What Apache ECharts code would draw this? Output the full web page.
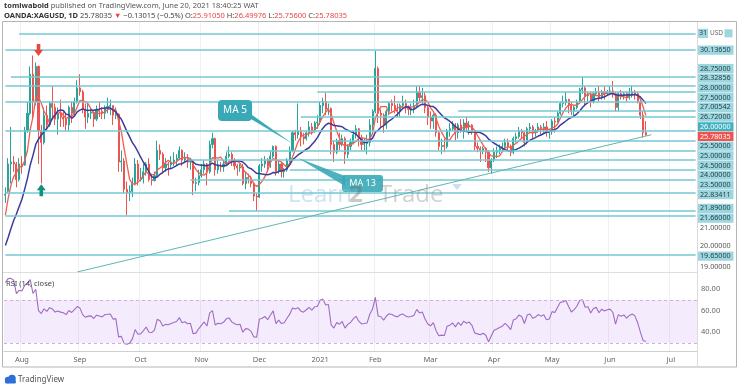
<!DOCTYPE html>
<html><head><meta charset="utf-8">
<script src="https://cdn.jsdelivr.net/npm/echarts/dist/echarts.min.js"></script>
<style>html,body{margin:0;padding:0;background:#fff}#c{width:740px;height:389px}</style>
</head><body><div id="c"></div>
<script>
const FONT = '"Noto Sans", "Open Sans", sans-serif';

// trading-day categories (incl. empty future days on the right)
const dates = [
'2020-07-24','2020-07-27','2020-07-28','2020-07-29','2020-07-30','2020-07-31',
'2020-08-03','2020-08-04','2020-08-05','2020-08-06','2020-08-07','2020-08-10','2020-08-11','2020-08-12','2020-08-13','2020-08-14','2020-08-17','2020-08-18','2020-08-19','2020-08-20','2020-08-21','2020-08-24','2020-08-25','2020-08-26','2020-08-27','2020-08-28','2020-08-31',
'2020-09-01','2020-09-02','2020-09-03','2020-09-04','2020-09-07','2020-09-08','2020-09-09','2020-09-10','2020-09-11','2020-09-14','2020-09-15','2020-09-16','2020-09-17','2020-09-18','2020-09-21','2020-09-22','2020-09-23','2020-09-24','2020-09-25','2020-09-28','2020-09-29','2020-09-30',
'2020-10-01','2020-10-02','2020-10-05','2020-10-06','2020-10-07','2020-10-08','2020-10-09','2020-10-12','2020-10-13','2020-10-14','2020-10-15','2020-10-16','2020-10-19','2020-10-20','2020-10-21','2020-10-22','2020-10-23','2020-10-26','2020-10-27','2020-10-28','2020-10-29','2020-10-30',
'2020-11-02','2020-11-03','2020-11-04','2020-11-05','2020-11-06','2020-11-09','2020-11-10','2020-11-11','2020-11-12','2020-11-13','2020-11-16','2020-11-17','2020-11-18','2020-11-19','2020-11-20','2020-11-23','2020-11-24','2020-11-25','2020-11-26','2020-11-27','2020-11-30',
'2020-12-01','2020-12-02','2020-12-03','2020-12-04','2020-12-07','2020-12-08','2020-12-09','2020-12-10','2020-12-11','2020-12-14','2020-12-15','2020-12-16','2020-12-17','2020-12-18','2020-12-21','2020-12-22','2020-12-23','2020-12-24','2020-12-28','2020-12-29','2020-12-30','2020-12-31',
'2021-01-04','2021-01-05','2021-01-06','2021-01-07','2021-01-08','2021-01-11','2021-01-12','2021-01-13','2021-01-14','2021-01-15','2021-01-18','2021-01-19','2021-01-20','2021-01-21','2021-01-22','2021-01-25','2021-01-26','2021-01-27','2021-01-28','2021-01-29',
'2021-02-01','2021-02-02','2021-02-03','2021-02-04','2021-02-05','2021-02-08','2021-02-09','2021-02-10','2021-02-11','2021-02-12','2021-02-15','2021-02-16','2021-02-17','2021-02-18','2021-02-19','2021-02-22','2021-02-23','2021-02-24','2021-02-25','2021-02-26',
'2021-03-01','2021-03-02','2021-03-03','2021-03-04','2021-03-05','2021-03-08','2021-03-09','2021-03-10','2021-03-11','2021-03-12','2021-03-15','2021-03-16','2021-03-17','2021-03-18','2021-03-19','2021-03-22','2021-03-23','2021-03-24','2021-03-25','2021-03-26','2021-03-29','2021-03-30','2021-03-31',
'2021-04-01','2021-04-05','2021-04-06','2021-04-07','2021-04-08','2021-04-09','2021-04-12','2021-04-13','2021-04-14','2021-04-15','2021-04-16','2021-04-19','2021-04-20','2021-04-21','2021-04-22','2021-04-23','2021-04-26','2021-04-27','2021-04-28','2021-04-29','2021-04-30',
'2021-05-03','2021-05-04','2021-05-05','2021-05-06','2021-05-07','2021-05-10','2021-05-11','2021-05-12','2021-05-13','2021-05-14','2021-05-17','2021-05-18','2021-05-19','2021-05-20','2021-05-21','2021-05-24','2021-05-25','2021-05-26','2021-05-27','2021-05-28','2021-05-31',
'2021-06-01','2021-06-02','2021-06-03','2021-06-04','2021-06-07','2021-06-08','2021-06-09','2021-06-10','2021-06-11','2021-06-14','2021-06-15','2021-06-16','2021-06-17','2021-06-18',
'2021-06-21','2021-06-22','2021-06-23','2021-06-24','2021-06-25','2021-06-28','2021-06-29','2021-06-30',
'2021-07-01','2021-07-02','2021-07-05','2021-07-06','2021-07-07','2021-07-08','2021-07-09','2021-07-12','2021-07-13','2021-07-14'
];

// daily candles [open, close, low, high]
const candles = [
[22.70,22.75,22.30,23.10],[22.90,24.30,22.80,24.60],[24.30,24.40,23.30,26.20],[24.40,24.30,23.90,24.70],[24.30,23.50,23.10,24.40],[23.50,24.30,23.40,24.60],
[24.30,24.25,23.80,24.70],[24.25,26.00,24.20,26.20],[26.00,26.90,25.90,27.50],[26.90,28.90,26.80,29.30],[28.90,27.50,26.60,29.86],[27.50,29.30,27.30,29.50],[29.30,26.00,24.30,29.35],[26.00,25.40,23.30,26.30],[25.40,26.80,25.30,27.20],[26.80,26.30,26.00,27.30],[26.30,27.40,26.20,27.50],[27.40,27.20,26.60,28.30],[27.20,26.60,26.30,27.40],[26.60,26.90,25.80,27.20],[26.90,26.70,26.20,27.60],[26.70,26.60,26.20,27.00],[26.60,26.30,26.00,26.90],[26.30,27.20,26.00,27.30],[27.20,26.90,26.40,27.50],[26.90,27.50,26.80,27.70],[27.50,28.20,27.40,28.60],
[28.20,28.00,27.80,28.90],[28.00,27.10,26.90,28.10],[27.10,26.70,26.10,27.40],[26.70,26.90,26.40,27.40],[26.90,26.95,26.60,27.10],[26.95,26.60,26.20,27.00],[26.60,27.10,26.50,27.30],[27.10,27.00,26.70,27.50],[27.00,26.90,26.60,27.20],[26.90,27.20,26.60,27.30],[27.20,27.25,26.90,27.70],[27.25,27.30,26.80,27.60],[27.30,26.80,26.30,27.30],[26.80,26.85,26.60,27.20],[26.85,24.40,23.90,26.90],[24.40,24.45,23.90,25.00],[24.45,23.00,22.80,24.60],[23.00,22.80,21.66,23.40],[22.80,22.90,22.40,23.20],[22.90,23.30,22.60,23.60],[23.30,24.30,23.20,24.60],[24.30,23.50,23.20,24.50],
[23.50,23.55,23.40,24.10],[23.55,23.90,23.30,24.30],[23.90,24.30,23.70,24.40],[24.30,23.50,23.40,24.60],[23.50,23.45,23.20,23.80],[23.45,23.70,23.40,23.90],[23.70,25.00,23.60,25.50],[25.00,24.80,24.50,25.30],[24.80,24.10,23.80,24.90],[24.10,24.30,23.90,24.60],[24.30,24.25,23.70,24.40],[24.25,24.40,24.10,24.70],[24.40,24.50,24.20,24.90],[24.50,24.60,24.20,24.80],[24.60,25.00,24.50,25.20],[25.00,24.50,24.20,25.05],[24.50,24.60,24.40,24.90],[24.60,24.40,24.10,24.80],[24.40,24.45,24.00,24.55],[24.45,23.30,22.70,24.50],[23.30,23.35,22.90,23.60],[23.35,23.70,23.20,24.00],
[23.70,24.00,23.60,24.30],[24.00,24.30,23.80,24.50],[24.30,23.90,23.20,24.35],[23.90,25.30,23.80,25.50],[25.30,25.60,25.10,25.90],[25.60,24.00,23.70,25.65],[24.00,24.20,23.80,24.50],[24.20,24.15,23.90,24.40],[24.15,24.30,23.90,24.50],[24.30,24.70,24.20,24.90],[24.70,24.80,24.60,25.20],[24.80,24.40,24.20,24.90],[24.40,24.20,24.00,24.60],[24.20,24.10,23.70,24.30],[24.10,24.15,23.90,24.30],[24.15,23.30,23.20,24.30],[23.30,23.60,23.00,23.90],[23.60,23.55,23.30,23.80],[23.55,23.30,23.10,23.70],[23.30,22.65,22.40,23.35],[22.65,22.60,21.90,22.80],
[22.60,24.20,22.55,24.30],[24.20,24.30,23.90,24.60],[24.30,24.50,24.10,24.70],[24.50,24.20,23.90,24.60],[24.20,24.70,24.10,25.00],[24.70,25.20,24.60,25.25],[25.20,23.90,23.70,25.25],[23.90,24.30,23.80,24.50],[24.30,23.90,23.60,24.40],[23.90,24.00,23.60,24.10],[24.00,24.50,23.90,24.60],[24.50,25.00,24.40,25.20],[25.00,25.90,24.90,26.00],[25.90,25.80,25.50,26.05],[25.80,26.00,25.60,27.40],[26.00,25.70,25.20,26.20],[25.70,25.60,25.30,25.90],[25.60,25.90,25.50,26.00],[25.90,26.20,25.70,26.50],[26.20,26.00,25.80,26.40],[26.00,26.40,25.90,26.50],[26.40,26.45,26.10,26.80],
[26.45,27.30,26.30,27.50],[27.30,27.50,26.90,27.70],[27.50,27.10,26.80,27.95],[27.10,27.15,26.80,27.40],[27.15,25.30,24.80,27.20],[25.30,24.90,24.40,25.50],[24.90,25.50,24.80,25.60],[25.50,25.30,25.00,25.90],[25.30,25.60,25.20,25.80],[25.60,24.80,24.30,25.70],[24.80,25.20,24.60,25.30],[25.20,25.40,25.00,25.60],[25.40,25.80,25.30,26.00],[25.80,26.10,25.60,26.30],[26.10,25.60,25.20,26.15],[25.60,25.30,25.00,25.80],[25.30,25.35,25.00,25.60],[25.35,25.40,24.80,25.80],[25.40,26.30,25.20,26.60],[26.30,27.00,26.00,27.10],
[27.00,29.20,26.90,30.10],[29.20,26.90,26.40,29.30],[26.90,26.80,26.20,27.10],[26.80,26.30,25.90,26.90],[26.30,27.00,26.10,27.10],[27.00,27.40,26.80,27.50],[27.40,27.30,27.00,27.60],[27.30,27.10,26.90,27.80],[27.10,27.00,26.70,27.40],[27.00,27.30,26.70,27.40],[27.30,27.40,27.20,27.80],[27.40,27.20,26.90,27.60],[27.20,27.10,26.80,27.30],[27.10,27.15,26.80,27.40],[27.15,27.30,26.90,27.60],[27.30,28.00,27.20,28.30],[28.00,27.70,27.50,28.30],[27.70,27.80,27.40,28.20],[27.80,27.20,26.90,28.00],[27.20,26.70,26.30,27.30],
[26.70,26.50,26.10,27.00],[26.50,26.80,26.10,26.90],[26.80,25.90,25.70,26.90],[25.90,25.20,25.00,26.00],[25.20,25.25,24.80,25.60],[25.25,25.20,24.90,25.60],[25.20,26.00,25.10,26.10],[26.00,26.10,25.70,26.40],[26.10,26.30,26.00,26.50],[26.30,25.90,25.50,26.40],[25.90,26.30,25.60,26.40],[26.30,26.00,25.90,26.60],[26.00,26.40,25.60,26.60],[26.40,26.20,26.00,26.70],[26.20,26.30,25.80,26.50],[26.30,26.00,25.80,26.35],[26.00,25.20,25.00,26.05],[25.20,25.10,24.90,25.40],[25.10,25.00,24.40,25.20],[25.00,25.10,24.80,25.20],[25.10,24.90,24.40,25.15],[24.90,24.10,23.90,25.00],[24.10,24.50,23.80,24.60],
[24.50,24.90,24.40,25.10],[24.90,25.00,24.60,25.20],[25.00,25.10,24.80,25.30],[25.10,25.20,24.90,25.40],[25.20,25.40,25.10,25.60],[25.40,25.20,25.00,25.60],[25.20,24.90,24.70,25.30],[24.90,25.60,24.80,25.70],[25.60,25.70,25.40,25.90],[25.70,26.00,25.60,26.20],[26.00,25.90,25.60,26.10],[25.90,25.40,25.20,26.00],[25.40,26.10,25.30,26.20],[26.10,26.20,25.90,26.40],[26.20,25.90,25.60,26.30],[25.90,26.00,25.70,26.10],[26.00,26.20,25.90,26.40],[26.20,26.10,25.80,26.30],[26.10,26.20,25.90,26.40],[26.20,25.90,25.70,26.50],[25.90,25.95,25.60,26.10],
[25.95,26.50,25.80,26.60],[26.50,26.45,25.90,26.70],[26.45,26.90,26.40,27.00],[26.90,27.40,26.80,27.50],[27.40,27.45,27.20,27.80],[27.45,27.60,27.30,28.00],[27.60,27.30,26.90,27.65],[27.30,27.00,26.80,27.50],[27.00,27.20,26.70,27.30],[27.20,27.50,27.10,27.60],[27.50,28.10,27.40,28.20],[28.10,28.20,27.90,28.75],[28.20,27.80,27.30,28.30],[27.80,27.85,27.50,28.00],[27.85,27.50,27.20,28.00],[27.50,27.90,27.40,28.00],[27.90,28.00,27.80,28.20],[28.00,27.70,27.50,28.30],[27.70,28.00,27.60,28.10],[28.00,27.90,27.60,28.30],[27.90,28.00,27.80,28.10],
[28.00,28.05,27.90,28.30],[28.05,27.90,27.70,28.55],[27.90,27.20,27.00,28.00],[27.20,27.90,27.00,28.00],[27.90,27.80,27.60,28.10],[27.80,27.90,27.60,28.00],[27.90,27.70,27.50,28.00],[27.70,27.90,27.60,28.20],[27.90,28.00,27.70,28.33],[28.00,27.90,27.60,28.10],[27.90,27.50,27.40,28.00],[27.50,26.80,26.60,27.60],[26.80,25.91,25.65,27.00],[25.9105,25.78035,25.756,26.49976]
];

// closes before the first visible day (Jun 1 - Jul 23 2020), used only to warm up MA/RSI
const priorCloses = [18.40,18.20,17.80,17.90,17.50,17.60,17.80,17.90,17.70,17.50,17.50,17.60,17.70,17.60,17.60,17.70,17.90,17.60,17.80,17.70,17.80,18.20,18.00,18.00,18.10,18.40,18.60,18.90,18.60,18.80,19.10,19.40,19.40,19.20,19.75,19.95,21.10,22.05,22.50];

const maFast = 5, maSlow = 13, rsiPeriod = 14;

// horizontal levels drawn on the chart and the day each one starts
const levels = [31, 30.1365, 28.75, 28.32856, 28, 27.5, 27.00542, 26.72, 26, 25.5, 25, 24.5, 24, 23.5, 22.83411, 21.89, 21.66, 19.65];
const levelStarts = ['2020-07-31','2020-07-24','2020-07-28','2020-07-24','2020-12-31','2020-07-24','2021-03-15','2020-12-22','2020-07-24','2021-01-08','2020-11-13','2020-10-26','2020-12-16','2020-10-27','2020-07-24','2020-11-16','2020-07-24','2020-07-24'];
const highlightedLevel = 26;
const lastPrice = 25.78035;
const plainTicks = [21, 20, 19];
const trendLine = [['2020-08-31', 18.76], ['2021-06-22', 25.80]];
const arrowDown = ['2020-08-11', 30.15];
const arrowUp = ['2020-08-12', 22.95];
const rsiTicks = [80, 60, 40];
const monthNames = ['Jan','Feb','Mar','Apr','May','Jun','Jul','Aug','Sep','Oct','Nov','Dec'];

// ---- derived indicators
const closes = candles.map(c => c[1]);
const allCloses = priorCloses.concat(closes);
const P = priorCloses.length;
function sma(n) {
  return dates.map((d, i) => {
    if (i >= closes.length) return null;
    const k = P + i; let s = 0;
    for (let j = k - n + 1; j <= k; j++) s += allCloses[j];
    return +(s / n).toFixed(4);
  });
}
function rsi(n) {
  const out = new Array(allCloses.length).fill(null);
  let g = 0, l = 0;
  for (let i = 1; i <= n; i++) { const d = allCloses[i] - allCloses[i-1]; if (d > 0) g += d; else l -= d; }
  let ag = g / n, al = l / n;
  out[n] = 100 - 100 / (1 + ag / al);
  for (let i = n + 1; i < allCloses.length; i++) {
    const d = allCloses[i] - allCloses[i-1];
    ag = (ag * (n - 1) + Math.max(d, 0)) / n;
    al = (al * (n - 1) + Math.max(-d, 0)) / n;
    out[i] = al === 0 ? 100 : 100 - 100 / (1 + ag / al);
  }
  return dates.map((d, i) => i < closes.length ? +out[P + i].toFixed(2) : null);
}
const ma5 = sma(maFast), ma13 = sma(maSlow), rsiVals = rsi(rsiPeriod);

function isMonthStart(i) { return i > 0 && dates[i].slice(5, 7) !== dates[i-1].slice(5, 7); }
function monthLabel(v) { const m = +v.slice(5, 7); return m === 1 ? v.slice(0, 4) : monthNames[m - 1]; }

const GL = 4, GR = 43;
const chart = echarts.init(document.getElementById('c'));
const downPath = 'path://M3,0L7,0L7,6L10,6L5,12L0,6L3,6Z';
const upPath = 'path://M5,0L10,6L7,6L7,12L3,12L3,6L0,6Z';

const option = {
  animation: false,
  backgroundColor: '#fff',
  grid: [
    {left: GL, right: GR, top: 22, height: 250},
    {left: GL, right: GR, top: 272, height: 79}
  ],
  xAxis: [
    {type: 'category', gridIndex: 0, data: dates, boundaryGap: true,
     axisLine: {show: false}, axisTick: {show: false}, axisLabel: {show: false},
     splitLine: {show: true, interval: (i) => isMonthStart(i), lineStyle: {color: '#f0f0f0', width: 1}}},
    {type: 'category', gridIndex: 1, data: dates, boundaryGap: true,
     axisLine: {show: true, lineStyle: {color: '#cfcfcf'}}, axisTick: {show: false},
     axisLabel: {interval: (i) => isMonthStart(i), formatter: (v) => monthLabel(v), color: '#666', fontSize: 7.5, fontFamily: FONT, margin: 5},
     splitLine: {show: true, interval: (i) => isMonthStart(i), lineStyle: {color: '#f0f0f0', width: 1}}}
  ],
  yAxis: [
    {type: 'value', gridIndex: 0, position: 'right', min: 18.76, max: 31.58, scale: true,
     axisLine: {show: false}, axisTick: {show: false}, axisLabel: {show: false}, splitLine: {show: false}},
    {type: 'value', gridIndex: 1, position: 'right', min: 22.6, max: 96.1,
     axisLine: {show: false}, axisTick: {show: false}, axisLabel: {show: false}, splitLine: {show: false}}
  ],
  series: [
    {type: 'line', name: 'levels', xAxisIndex: 0, yAxisIndex: 0, z: 1, silent: true,
     data: dates.map(() => null), showSymbol: false,
     markLine: {silent: true, symbol: ['none', 'none'], label: {show: false}, animation: false,
       lineStyle: {color: '#76c8d3', width: 1.6, type: 'solid'},
       data: levels.map((p, i) => [{coord: [levelStarts[i], p]}, {coord: [dates[dates.length - 1], p]}]).concat([
         [{coord: trendLine[0], lineStyle: {color: '#5fb6b4', width: 1, type: 'solid'}}, {coord: trendLine[1]}]
       ])}},
    {type: 'candlestick', name: 'XAGUSD', xAxisIndex: 0, yAxisIndex: 0, z: 3, silent: true,
     data: candles, barWidth: 1.6,
     itemStyle: {color: '#26a69a', color0: '#ef5350', borderColor: '#26a69a', borderColor0: '#ef5350', borderWidth: 1},
     markPoint: {silent: true, label: {show: false}, animation: false,
       data: [
         {coord: arrowDown, symbol: downPath, symbolSize: [9, 12], itemStyle: {color: '#e8463e'}},
         {coord: arrowUp, symbol: upPath, symbolSize: [9, 12], itemStyle: {color: '#12907d'}}
       ]}},
    {type: 'line', name: 'MA 5', xAxisIndex: 0, yAxisIndex: 0, z: 4, silent: true, data: ma5,
     showSymbol: false, lineStyle: {color: '#ef5d52', width: 1.3}},
    {type: 'line', name: 'MA 13', xAxisIndex: 0, yAxisIndex: 0, z: 4, silent: true, data: ma13,
     showSymbol: false, lineStyle: {color: '#3b3c9c', width: 1.5}},
    {type: 'line', name: 'RSI', xAxisIndex: 1, yAxisIndex: 1, z: 3, silent: true, data: rsiVals,
     showSymbol: false, lineStyle: {color: '#a06bc6', width: 1.1},
     markArea: {silent: true, itemStyle: {color: 'rgba(190,140,235,0.17)'}, data: [[{yAxis: 30}, {yAxis: 70}]]},
     markLine: {silent: true, symbol: ['none', 'none'], label: {show: false}, animation: false,
       lineStyle: {color: '#cfaee4', type: [3, 3], width: 1}, data: [{yAxis: 70}, {yAxis: 30}]}}
  ]
};
chart.setOption(option);

// ---- overlays: frame, header, callouts, watermark, price labels
const G = [];
function txt(x, y, text, st, z) {
  return {type: 'text', x: x, y: y, silent: true, z: z || 110,
    style: Object.assign({text: text, fill: '#444', fontSize: 7.5, fontFamily: FONT, verticalAlign: 'middle', align: 'left'}, st || {})};
}
G.push({type: 'rect', silent: true, z: 90, shape: {x: 2.5, y: 21.5, width: 734, height: 345.5}, style: {fill: 'none', stroke: '#b5b5b5', lineWidth: 1}});
G.push({type: 'line', silent: true, z: 90, shape: {x1: 3, y1: 272.5, x2: 697, y2: 272.5}, style: {stroke: '#dedede', lineWidth: 1}});
G.push({type: 'line', silent: true, z: 90, shape: {x1: 697.5, y1: 22, x2: 697.5, y2: 366}, style: {stroke: '#dcdcdc', lineWidth: 1}});

// header
G.push(txt(4, 5.5, '{b|tomiwabold} published on TradingView.com, June 20, 2021 18:40:25 WAT', {fill: '#555', rich: {b: {fontWeight: 'bold', fill: '#333', fontSize: 7.5, fontFamily: FONT}}}));
G.push(txt(4, 15.5, '{b|OANDA:XAGUSD, 1D} 25.78035 {r|▼} −0.13015 (−0.5%) O:{r|25.91050} H:{r|26.49976} L:{r|25.75600} C:{r|25.78035}',
  {fill: '#444', rich: {b: {fontWeight: 'bold', fill: '#333', fontSize: 7.5, fontFamily: FONT}, r: {fill: '#e8473f', fontSize: 7.5, fontFamily: FONT}}}));

// callouts
G.push({type: 'polygon', silent: true, z: 101, shape: {points: [[245, 110], [251, 119], [293, 144]]}, style: {fill: '#3aa9b7'}});
G.push({type: 'rect', silent: true, z: 101, shape: {x: 218, y: 100, width: 34, height: 21, r: 4}, style: {fill: '#3aa9b7'}});
G.push(txt(235, 110.5, 'MA 5', {fill: '#ffffff', fontSize: 10, align: 'center'}, 105));
G.push({type: 'polygon', silent: true, z: 101, shape: {points: [[298, 158], [345, 176], [345, 186]]}, style: {fill: 'rgba(58,169,183,0.9)'}});
G.push({type: 'rect', silent: true, z: 101, shape: {x: 342, y: 175, width: 41, height: 17, r: 3}, style: {fill: 'rgba(58,169,183,0.9)'}});
G.push(txt(362.5, 183.5, 'MA 13', {fill: '#ffffff', fontSize: 9, align: 'center'}, 105));

// watermark (drawn over everything, faint)
G.push(txt(288, 195, 'Learn', {fill: 'rgba(140,195,222,0.45)', fontSize: 24, fontFamily: '"Open Sans", sans-serif'}, 120));
G.push(txt(349, 195, '2', {fill: 'rgba(100,100,100,0.35)', fontSize: 24, fontWeight: 'bold', fontFamily: '"Open Sans", sans-serif'}, 120));
G.push(txt(379, 195, 'Trade', {fill: 'rgba(140,140,140,0.40)', fontSize: 24, fontFamily: '"Open Sans", sans-serif'}, 120));
G.push({type: 'polygon', silent: true, z: 120, shape: {points: [[452, 184], [462, 184], [457, 190]]}, style: {fill: 'rgba(120,180,220,0.4)'}});

// RSI pane label and ticks
G.push(txt(6, 283.5, 'RSI (14, close)', {fill: '#444', fontSize: 7.5}));
rsiTicks.forEach(v => {
  const y = chart.convertToPixel({yAxisIndex: 1}, v);
  G.push(txt(701, y, v.toFixed(2), {fill: '#666', fontSize: 7.5}));
});

// price-scale labels, spread apart so they do not overlap
const items = levels.map(p => ({price: p, kind: p === highlightedLevel ? 'hi' : 'level'}))
  .concat([{price: lastPrice, kind: 'last'}])
  .concat(plainTicks.map(p => ({price: p, kind: 'tick'})));
items.forEach(it => it.y = chart.convertToPixel({yAxisIndex: 0}, it.price));
items.sort((a, b) => a.y - b.y);
const H = 9.7;
let groups = items.map(it => ({items: [it], center: it.y}));
let merged = true;
while (merged) {
  merged = false;
  for (let i = 0; i < groups.length - 1; i++) {
    const a = groups[i], b = groups[i+1];
    if (a.center + a.items.length * H / 2 > b.center - b.items.length * H / 2) {
      const all = a.items.concat(b.items);
      groups.splice(i, 2, {items: all, center: all.reduce((s, it) => s + it.y, 0) / all.length});
      merged = true; break;
    }
  }
}
groups.forEach(g => g.items.forEach((it, k) => it.dy = g.center - (g.items.length - 1) * H / 2 + k * H));
items.forEach(it => {
  const y = it.dy;
  if (it.kind === 'tick') { G.push(txt(700, y, it.price.toFixed(5), {fill: '#555', fontSize: 7.2})); return; }
  if (it.price === 31) {
    G.push({type: 'rect', silent: true, z: 100, shape: {x: 698, y: y - 4.6, width: 10, height: 9.2}, style: {fill: '#9dd6df'}});
    G.push(txt(703, y, '31', {fill: '#1f3d42', fontSize: 7.2, align: 'center'}));
    G.push(txt(710, y, 'USD', {fill: '#666', fontSize: 6.5}));
    G.push({type: 'rect', silent: true, z: 100, shape: {x: 724.5, y: y - 4, width: 8, height: 8}, style: {fill: '#9dd6df'}});
    return;
  }
  const bg = it.kind === 'hi' ? '#3fb1c0' : it.kind === 'last' ? '#ef5350' : '#9dd6df';
  const fg = it.kind === 'level' ? '#1f3d42' : '#fff';
  G.push({type: 'rect', silent: true, z: 100, shape: {x: 698, y: y - 4.6, width: 35.5, height: 9.2}, style: {fill: bg}});
  G.push(txt(700, y, it.price.toFixed(5), {fill: fg, fontSize: 7.2}));
});

// footer logo
G.push({type: 'circle', silent: true, z: 100, shape: {cx: 8, cy: 380, r: 3.2}, style: {fill: '#2d6fd6'}});
G.push({type: 'circle', silent: true, z: 100, shape: {cx: 12, cy: 378.5, r: 3.8}, style: {fill: '#2d6fd6'}});
G.push({type: 'rect', silent: true, z: 100, shape: {x: 5, y: 380, width: 11, height: 3.5, r: 1.5}, style: {fill: '#2d6fd6'}});
G.push(txt(18, 380, 'TradingView', {fill: '#555', fontSize: 8}));

chart.setOption({graphic: G});
</script>
</body></html>
